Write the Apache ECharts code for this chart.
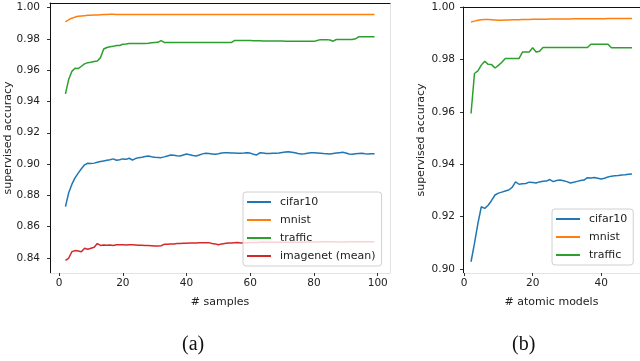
<!DOCTYPE html>
<html>
<head>
<meta charset="utf-8">
<script src="https://cdn.jsdelivr.net/npm/echarts@6.0.0/dist/echarts.min.js"></script>
<style>
  html, body { margin: 0; padding: 0; background: #fff; }
  #chart { width: 640px; height: 361px; }
</style>
</head>
<body>
<div id="chart"></div>
<script>
// (a) accuracy vs # samples, x = 2..99
const samplesStart = 2;
const cifarSamples = [
  0.8728, 0.8815, 0.8870, 0.8912, 0.8942, 0.8970, 0.8995, 0.9005, 0.9004, 0.9006,
  0.9011, 0.9016, 0.9020, 0.9024, 0.9028, 0.9033, 0.9024, 0.9028, 0.9033, 0.9030,
  0.9037, 0.9026, 0.9035, 0.9041, 0.9044, 0.9048, 0.9052, 0.9047, 0.9043, 0.9042,
  0.9041, 0.9046, 0.9052, 0.9058, 0.9056, 0.9053, 0.9052, 0.9058, 0.9064, 0.9060,
  0.9055, 0.9052, 0.9058, 0.9065, 0.9069, 0.9067, 0.9065, 0.9063, 0.9066, 0.9070,
  0.9072, 0.9073, 0.9071, 0.9070, 0.9069, 0.9069, 0.9070, 0.9072, 0.9070, 0.9063,
  0.9058, 0.9072, 0.9071, 0.9068, 0.9068, 0.9069, 0.9069, 0.9071, 0.9074, 0.9077,
  0.9079, 0.9076, 0.9072, 0.9068, 0.9065, 0.9066, 0.9069, 0.9072, 0.9073, 0.9071,
  0.9069, 0.9067, 0.9066, 0.9064, 0.9067, 0.9070, 0.9073, 0.9075, 0.9071, 0.9064,
  0.9063, 0.9066, 0.9068, 0.9069, 0.9066, 0.9064, 0.9066, 0.9066
];
const mnistSamples = [
  0.9908, 0.9922, 0.9932, 0.9939, 0.9944, 0.9946, 0.9948, 0.9950, 0.9951, 0.9952,
  0.9953, 0.9954, 0.9955, 0.9956, 0.9957, 0.9957, 0.9956, 0.9956, 0.9956, 0.9955,
  0.9956, 0.9955, 0.9955, 0.9956, 0.9955, 0.9955, 0.9955, 0.9956, 0.9955, 0.9955,
  0.9956, 0.9955, 0.9955, 0.9955, 0.9956, 0.9955, 0.9955, 0.9955, 0.9955, 0.9956,
  0.9955, 0.9955, 0.9955, 0.9955, 0.9956, 0.9955, 0.9955, 0.9955, 0.9955, 0.9955,
  0.9956, 0.9955, 0.9955, 0.9955, 0.9956, 0.9956, 0.9955, 0.9955, 0.9955, 0.9955,
  0.9955, 0.9956, 0.9955, 0.9955, 0.9955, 0.9955, 0.9955, 0.9956, 0.9955, 0.9955,
  0.9955, 0.9955, 0.9956, 0.9955, 0.9955, 0.9955, 0.9955, 0.9955, 0.9955, 0.9956,
  0.9955, 0.9955, 0.9955, 0.9955, 0.9955, 0.9955, 0.9955, 0.9956, 0.9955, 0.9955,
  0.9955, 0.9955, 0.9955, 0.9955, 0.9955, 0.9955, 0.9955, 0.9955
];
const trafficSamples = [
  0.9448, 0.9540, 0.9592, 0.9612, 0.9610, 0.9625, 0.9640, 0.9648, 0.9650, 0.9655,
  0.9658, 0.9680, 0.9735, 0.9745, 0.9750, 0.9752, 0.9757, 0.9758, 0.9765, 0.9767,
  0.9770, 0.9770, 0.9770, 0.9770, 0.9770, 0.9770, 0.9772, 0.9775, 0.9777, 0.9778,
  0.9789, 0.9777, 0.9776, 0.9776, 0.9776, 0.9776, 0.9776, 0.9776, 0.9776, 0.9776,
  0.9776, 0.9776, 0.9776, 0.9776, 0.9776, 0.9776, 0.9776, 0.9776, 0.9776, 0.9776,
  0.9776, 0.9776, 0.9776, 0.9789, 0.9790, 0.9790, 0.9789, 0.9789, 0.9789, 0.9788,
  0.9788, 0.9788, 0.9787, 0.9787, 0.9787, 0.9786, 0.9786, 0.9786, 0.9786, 0.9785,
  0.9785, 0.9785, 0.9785, 0.9784, 0.9784, 0.9784, 0.9784, 0.9784, 0.9784, 0.9790,
  0.9795, 0.9795, 0.9795, 0.9793, 0.9785, 0.9796, 0.9796, 0.9796, 0.9796, 0.9796,
  0.9796, 0.9800, 0.9813, 0.9814, 0.9814, 0.9814, 0.9814, 0.9814
];
const imagenetSamples = [
  0.8385, 0.8398, 0.8440, 0.8447, 0.8445, 0.8440, 0.8462, 0.8456, 0.8462, 0.8468,
  0.8492, 0.8480, 0.8483, 0.8482, 0.8483, 0.8480, 0.8484, 0.8485, 0.8484, 0.8483,
  0.8485, 0.8484, 0.8483, 0.8482, 0.8481, 0.8480, 0.8479, 0.8478, 0.8477, 0.8476,
  0.8478, 0.8487, 0.8488, 0.8489, 0.8490, 0.8492, 0.8493, 0.8494, 0.8494, 0.8495,
  0.8496, 0.8496, 0.8497, 0.8497, 0.8498, 0.8498, 0.8493, 0.8490, 0.8484, 0.8490,
  0.8493, 0.8495, 0.8496, 0.8498, 0.8499, 0.8496, 0.8497, 0.8498, 0.8499, 0.8499,
  0.8499, 0.8500, 0.8500, 0.8500, 0.8500, 0.8501, 0.8501, 0.8501, 0.8501, 0.8501,
  0.8500, 0.8500, 0.8500, 0.8501, 0.8501, 0.8502, 0.8502, 0.8502, 0.8502, 0.8502,
  0.8503, 0.8503, 0.8503, 0.8503, 0.8503, 0.8502, 0.8502, 0.8502, 0.8502, 0.8503,
  0.8503, 0.8503, 0.8503, 0.8503, 0.8504, 0.8504, 0.8504, 0.8504
];

// (b) accuracy vs # atomic models, x = 2..49
const modelsStart = 2;
const cifarModels = [
  0.9028, 0.9098, 0.9174, 0.9238, 0.9232, 0.9244, 0.9262, 0.9283, 0.9290, 0.9294,
  0.9298, 0.9302, 0.9312, 0.9333, 0.9324, 0.9326, 0.9327, 0.9332, 0.9331, 0.9329,
  0.9333, 0.9335, 0.9336, 0.9342, 0.9334, 0.9338, 0.9340, 0.9337, 0.9334, 0.9329,
  0.9332, 0.9335, 0.9338, 0.9340, 0.9349, 0.9348, 0.9350, 0.9347, 0.9344, 0.9347,
  0.9352, 0.9355, 0.9356, 0.9357, 0.9359, 0.9360, 0.9362, 0.9363
];
const mnistModels = [
  0.9944, 0.9947, 0.9950, 0.9952, 0.9953, 0.9953, 0.9952, 0.9951, 0.9950, 0.9950,
  0.9951, 0.9951, 0.9952, 0.9952, 0.9952, 0.9953, 0.9953, 0.9953, 0.9954, 0.9954,
  0.9954, 0.9954, 0.9954, 0.9955, 0.9955, 0.9955, 0.9955, 0.9955, 0.9955, 0.9955,
  0.9956, 0.9956, 0.9956, 0.9956, 0.9956, 0.9956, 0.9956, 0.9956, 0.9956, 0.9956,
  0.9957, 0.9957, 0.9957, 0.9957, 0.9957, 0.9957, 0.9957, 0.9957
];
const trafficModels = [
  0.9594, 0.9747, 0.9757, 0.9779, 0.9794, 0.9782, 0.9781, 0.9768, 0.9778, 0.9790,
  0.9804, 0.9804, 0.9804, 0.9804, 0.9804, 0.9829, 0.9829, 0.9829, 0.9845, 0.9829,
  0.9832, 0.9846, 0.9846, 0.9846, 0.9846, 0.9846, 0.9846, 0.9846, 0.9846, 0.9846,
  0.9846, 0.9846, 0.9846, 0.9846, 0.9846, 0.9859, 0.9859, 0.9859, 0.9859, 0.9859,
  0.9859, 0.9845, 0.9845, 0.9845, 0.9845, 0.9845, 0.9845, 0.9845
];

const xTicksSamples = [0, 20, 40, 60, 80, 100];
const yTicksSamples = [0.84, 0.86, 0.88, 0.90, 0.92, 0.94, 0.96, 0.98, 1.00];
const xTicksModels = [0, 20, 40];
const yTicksModels = [0.90, 0.92, 0.94, 0.96, 0.98, 1.00];

const legendSamples = ['cifar10', 'mnist', 'traffic', 'imagenet (mean)'];
const legendModels = ['cifar10', 'mnist', 'traffic'];

const colors = {
  'cifar10': '#1f77b4',
  'mnist': '#ff7f0e',
  'traffic': '#2ca02c',
  'imagenet (mean)': '#d62728'
};

const FONT = 'DejaVu Sans';

function pairs(start, vals) {
  return vals.map((v, i) => [start + i, v]);
}

function bottomAxis(grid, min, max, ticks, name) {
  return {
    type: 'value', gridIndex: grid, position: 'bottom', min: min, max: max,
    axisLine: { show: true, onZero: false, lineStyle: { color: '#e3e3e3', width: 1 } },
    axisTick: { show: true, customValues: ticks, length: 3, lineStyle: { color: '#333' } },
    axisLabel: { customValues: ticks, margin: 5, fontSize: 10.5, color: '#222', fontFamily: FONT },
    splitLine: { show: false },
    name: name, nameLocation: 'middle', nameGap: 24, nameMoveOverlap: false,
    nameTextStyle: { fontSize: 11, color: '#222', fontFamily: FONT }
  };
}

function topAxis(grid) {
  return {
    type: 'value', gridIndex: grid, position: 'top', min: 0, max: 1,
    axisLine: { show: true, onZero: false, lineStyle: { color: '#111', width: 1 } },
    axisTick: { show: false }, axisLabel: { show: false }, splitLine: { show: false }
  };
}

function leftAxis(grid, min, max, ticks, margin, nameGap) {
  return {
    type: 'value', gridIndex: grid, position: 'left', min: min, max: max,
    axisLine: { show: true, onZero: false, lineStyle: { color: '#111', width: 1 } },
    axisTick: { show: true, customValues: ticks, length: 3, lineStyle: { color: '#333' } },
    axisLabel: {
      customValues: ticks, margin: margin, fontSize: 10.5, color: '#222', fontFamily: FONT,
      formatter: v => v.toFixed(2)
    },
    splitLine: { show: false },
    name: 'supervised accuracy', nameLocation: 'middle', nameGap: nameGap, nameMoveOverlap: false,
    nameTextStyle: { fontSize: 11, color: '#222', fontFamily: FONT }
  };
}

function rightAxis(grid) {
  return {
    type: 'value', gridIndex: grid, position: 'right', min: 0, max: 1,
    axisLine: { show: true, onZero: false, lineStyle: { color: '#e3e3e3', width: 1 } },
    axisTick: { show: false }, axisLabel: { show: false }, splitLine: { show: false }
  };
}

function line(name, xi, yi, data) {
  return {
    name: name, type: 'line', xAxisIndex: xi, yAxisIndex: yi,
    data: data, showSymbol: false, symbol: 'none',
    color: colors[name],
    lineStyle: { width: 1.5, color: colors[name] },
    animation: false
  };
}

function legend(names, left, top) {
  return {
    data: names, orient: 'vertical', left: left, top: top,
    icon: 'rect', itemWidth: 24, itemHeight: 2, itemGap: 0,
    textStyle: { fontSize: 11, lineHeight: 18, color: '#222', fontFamily: FONT, padding: [0, 0, 0, 4] },
    backgroundColor: 'rgba(255,255,255,0.8)',
    borderColor: '#d0d0d0', borderWidth: 1, borderRadius: 3,
    padding: [1, 6, 1, 4],
    selectedMode: false
  };
}

const chart = echarts.init(document.getElementById('chart'));

const option = {
  animation: false,
  backgroundColor: '#fff',
  textStyle: { fontFamily: FONT },
  title: [
    { text: '(a)', left: 182, top: 335, padding: 0,
      textStyle: { fontFamily: 'Liberation Serif', fontSize: 20, fontWeight: 'normal', color: '#111' } },
    { text: '(b)', left: 512, top: 335, padding: 0,
      textStyle: { fontFamily: 'Liberation Serif', fontSize: 20, fontWeight: 'normal', color: '#111' } }
  ],
  grid: [
    { left: 50, top: 3, width: 340, height: 270, outerBoundsMode: 'none', containLabel: false },
    { left: 463, top: 7, width: 177, height: 266, outerBoundsMode: 'none', containLabel: false }
  ],
  xAxis: [
    bottomAxis(0, -2.85, 103.85, xTicksSamples, '# samples'),
    topAxis(0),
    bottomAxis(1, -0.35, 51.35, xTicksModels, '# atomic models'),
    topAxis(1)
  ],
  yAxis: [
    leftAxis(0, 0.8304, 1.0029, yTicksSamples, 10, 36),
    rightAxis(0),
    leftAxis(1, 0.8985, 1.0001, yTicksModels, 8, 36),
    rightAxis(1)
  ],
  legend: [
    legend(legendSamples, 243, 192),
    legend(legendModels, 552, 209)
  ],
  series: [
    line('cifar10', 0, 0, pairs(samplesStart, cifarSamples)),
    line('mnist', 0, 0, pairs(samplesStart, mnistSamples)),
    line('traffic', 0, 0, pairs(samplesStart, trafficSamples)),
    line('imagenet (mean)', 0, 0, pairs(samplesStart, imagenetSamples)),
    line('cifar10', 2, 2, pairs(modelsStart, cifarModels)),
    line('mnist', 2, 2, pairs(modelsStart, mnistModels)),
    line('traffic', 2, 2, pairs(modelsStart, trafficModels))
  ]
};

chart.setOption(option);
</script>
</body>
</html>
